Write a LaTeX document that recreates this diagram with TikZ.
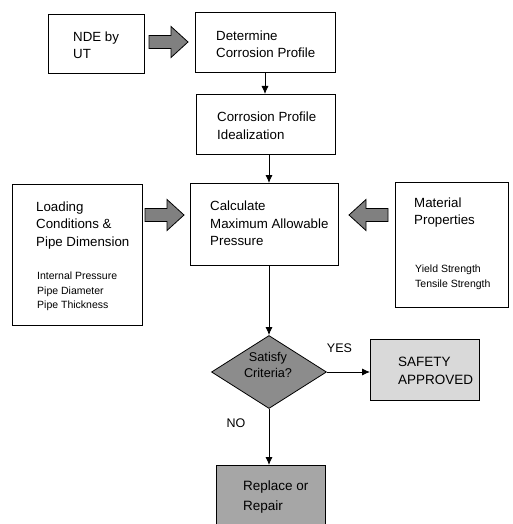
\documentclass[tikz,border=0pt]{standalone}
\usepackage{fontspec}
\setmainfont{Liberation Sans}
\usetikzlibrary{arrows.meta,shapes.geometric}
\tikzset{
  box/.style={draw=black, line width=0.9pt, anchor=north west, inner sep=0pt},
  txt/.style={anchor=west, align=left, inner sep=0pt, font=\fontsize{13.3}{17.5}\selectfont},
  smalltxt/.style={anchor=west, align=left, inner sep=0pt, font=\fontsize{10.5}{14.7}\selectfont},
  arr/.style={line width=0.8pt, -{Latex[length=8pt,width=7pt]}},
  fatstyle/.style={draw=black, line width=0.8pt, fill=black!50},
  fatR/.pic={\draw[fatstyle] (0,-6.5) -- (22,-6.5) -- (22,-15.5) -- (39,0) -- (22,15.5) -- (22,6.5) -- (0,6.5) -- cycle;},
  fatL/.pic={\draw[fatstyle] (39,-6.5) -- (17,-6.5) -- (17,-15.5) -- (0,0) -- (17,15.5) -- (17,6.5) -- (39,6.5) -- cycle;}
}
\begin{document}
\begin{tikzpicture}[x=1pt,y=-1pt]
\useasboundingbox (0,0) rectangle (513,524);
% boxes
\node[box, minimum width=96, minimum height=59] (nde) at (48,14) {};
\node[txt] (ndet) at (73,45) {NDE by\\UT};
\node[box, minimum width=140, minimum height=60] (det) at (195,12) {};
\node[txt] (dett) at (216,44) {Determine\\Corrosion Profile};
\node[box, minimum width=139, minimum height=60] (ideal) at (196,94) {};
\node[txt] (idealt) at (217,125.5) {Corrosion Profile\\Idealization};
\node[box, minimum width=148, minimum height=82] (calc) at (190,183) {};
\node[txt] (calct) at (210,223.5) {Calculate\\Maximum Allowable\\Pressure};
\node[box, minimum width=130, minimum height=141] (load) at (12,184) {};
\node[txt] (loadt) at (36,225.5) {Loading\\Conditions \&\\Pipe Dimension};
\node[smalltxt] (loads) at (37,291.5) {Internal Pressure\\Pipe Diameter\\Pipe Thickness};
\node[box, minimum width=113, minimum height=125] (mat) at (395,182) {};
\node[txt] (matt) at (414,212.5) {Material\\Properties};
\node[smalltxt] (mats) at (415,277.5) {Yield Strength\\Tensile Strength};
% decision
\node[diamond, draw=black, line width=0.8pt, fill=black!45, minimum width=115, minimum height=73, inner sep=0pt] (dia) at (269,372) {};
\node[align=center, inner sep=0pt, font=\fontsize{12.7}{16}\selectfont] (diat) at (268,365) {Satisfy\\Criteria?};
\node[box, fill=black!15, minimum width=109, minimum height=61] (safe) at (370,339) {};
\node[txt, font=\fontsize{13.5}{18}\selectfont] (safet) at (398,371) {SAFETY\\APPROVED};
\node[box, fill=black!35, minimum width=109, minimum height=61] (rep) at (216,465) {};
\node[txt, font=\fontsize{13.5}{20}\selectfont] (rept) at (243,497) {Replace or\\Repair};
\node[inner sep=0pt, font=\fontsize{12.5}{15}\selectfont] (yes) at (339.5,348) {YES};
\node[inner sep=0pt, font=\fontsize{12.5}{15}\selectfont] (no) at (236,423) {NO};
% fat arrows
\pic at (149,42) {fatR};
\pic at (145,215) {fatR};
\pic at (349,215) {fatL};
% thin arrows
\draw[arr] (det.south -| 265,0) -- (ideal.north -| 265,0);
\draw[arr] (ideal.south -| dia.north) -- (calc.north -| dia.north);
\draw[arr] (calc.south -| dia.north) -- (dia.north);
\draw[arr] (dia.east) -- (dia.east -| safe.west);
\draw[arr] (dia.south) -- (rep.north -| dia.south);
\end{tikzpicture}
\end{document}
